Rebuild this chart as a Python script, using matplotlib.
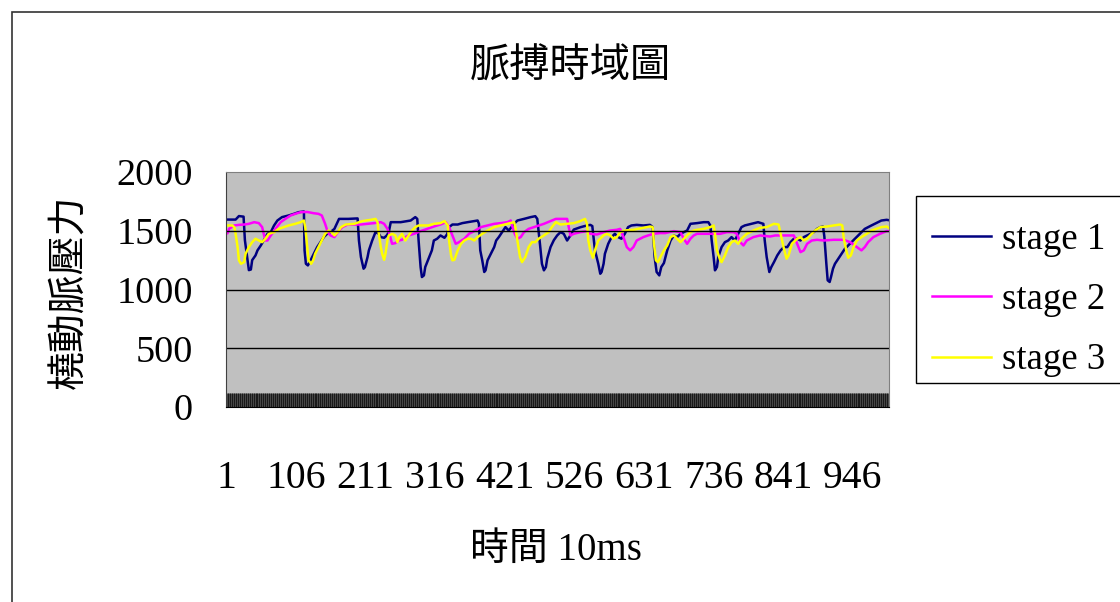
import numpy as np
import matplotlib
matplotlib.use("Agg")
import matplotlib.pyplot as plt
from matplotlib.ticker import FixedLocator, NullFormatter
from matplotlib.patches import Rectangle

plt.rcParams['font.family'] = ['Liberation Serif', 'Noto Sans CJK TC']

# ====== DATA (sample index, pressure) ======
stage1_x = [1, 15, 20, 27, 29, 33, 35, 38, 40, 45, 48, 53, 58, 63, 68, 73, 78, 85, 95, 103,
            110, 118, 119, 121, 124, 128, 133, 138, 143, 148, 153, 158, 164, 171, 185, 199,
            201, 204, 208, 210, 214, 216, 221, 226, 231, 234, 239, 243, 246, 249, 264, 279,
            286, 289, 291, 294, 296, 299, 301, 306, 311, 314, 319, 324, 330, 334, 337, 342,
            350, 357, 365, 375, 380, 382, 384, 387, 390, 392, 395, 400, 405, 408, 412, 417,
            422, 427, 435, 440, 450, 460, 467, 470, 474, 477, 480, 483, 485, 490, 495, 500,
            505, 510, 515, 520, 525, 535, 545, 550, 553, 557, 562, 565, 567, 570, 572, 577,
            582, 587, 592, 597, 602, 607, 612, 620, 630, 640, 644, 647, 650, 654, 657, 661,
            666, 671, 676, 681, 686, 691, 696, 701, 711, 721, 728, 731, 733, 736, 738, 741,
            743, 748, 753, 758, 763, 768, 773, 778, 783, 793, 803, 811, 813, 816, 820, 823,
            827, 832, 837, 842, 847, 852, 857, 862, 867, 872, 877, 882, 887, 892, 897, 901,
            903, 906, 908, 911, 913, 916, 919, 924, 929, 934, 939, 944, 949, 954, 959, 964,
            969, 974, 979, 984, 989, 997, 1000]
stage1_y = [1595, 1595, 1625, 1620, 1420, 1250, 1165, 1170, 1250, 1290, 1333, 1375, 1423, 1474,
            1488, 1545, 1587, 1616, 1630, 1644, 1658, 1664, 1333, 1219, 1205, 1248, 1304, 1361,
            1403, 1446, 1474, 1488, 1516, 1601, 1601, 1605, 1417, 1276, 1177, 1190, 1276, 1333,
            1417, 1488, 1474, 1446, 1440, 1460, 1488, 1573, 1573, 1587, 1616, 1601, 1417, 1191,
            1106, 1120, 1191, 1262, 1333, 1417, 1432, 1460, 1440, 1470, 1531, 1553, 1553, 1565,
            1573, 1582, 1587, 1560, 1333, 1248, 1149, 1163, 1248, 1304, 1361, 1417, 1446, 1488,
            1531, 1502, 1559, 1587, 1601, 1616, 1624, 1601, 1389, 1219, 1163, 1191, 1262, 1361,
            1420, 1460, 1488, 1474, 1417, 1460, 1510, 1530, 1545, 1550, 1540, 1333, 1219, 1134,
            1149, 1219, 1304, 1389, 1446, 1474, 1446, 1432, 1474, 1531, 1545, 1550, 1545, 1550,
            1531, 1276, 1149, 1120, 1191, 1225, 1333, 1417, 1460, 1446, 1474, 1488, 1502, 1559,
            1565, 1573, 1573, 1545, 1420, 1276, 1163, 1191, 1276, 1361, 1403, 1417, 1446, 1417,
            1474, 1531, 1545, 1559, 1573, 1559, 1420, 1276, 1149, 1191, 1233, 1290, 1333, 1361,
            1361, 1403, 1432, 1432, 1417, 1446, 1460, 1474, 1488, 1516, 1531, 1536, 1450, 1219,
            1078, 1064, 1106, 1177, 1219, 1262, 1304, 1347, 1375, 1403, 1432, 1460, 1488, 1516,
            1531, 1545, 1559, 1573, 1587, 1593, 1590]

stage2_x = [1, 3, 5, 13, 20, 28, 35, 43, 50, 55, 58, 60, 63, 68, 75, 83, 90, 98, 105, 113,
            123, 133, 140, 145, 150, 154, 158, 164, 171, 176, 184, 194, 204, 214, 224, 234,
            239, 244, 247, 251, 256, 261, 266, 271, 276, 284, 294, 304, 314, 324, 332, 337,
            342, 347, 352, 360, 367, 375, 385, 395, 405, 415, 425, 430, 432, 436, 440, 445,
            450, 457, 465, 472, 480, 490, 498, 505, 515, 517, 520, 525, 535, 545, 550, 560,
            570, 580, 590, 595, 600, 605, 610, 615, 620, 625, 630, 637, 645, 655, 663, 676,
            686, 691, 696, 701, 706, 711, 726, 736, 746, 756, 766, 771, 776, 781, 786, 796,
            806, 821, 829, 842, 857, 862, 867, 872, 877, 884, 892, 902, 917, 932, 942, 952,
            959, 964, 969, 977, 987, 997, 1000]
stage2_y = [1474, 1480, 1516, 1545, 1550, 1553, 1559, 1573, 1565, 1531, 1460, 1417, 1417, 1460,
            1516, 1573, 1601, 1630, 1644, 1658, 1660, 1649, 1644, 1630, 1559, 1488, 1460, 1446,
            1502, 1531, 1553, 1553, 1553, 1559, 1565, 1573, 1559, 1516, 1474, 1389, 1395, 1417,
            1423, 1446, 1460, 1474, 1497, 1516, 1536, 1553, 1573, 1531, 1460, 1389, 1403, 1432,
            1474, 1497, 1531, 1545, 1559, 1565, 1573, 1587, 1545, 1474, 1432, 1446, 1488, 1516,
            1531, 1545, 1559, 1582, 1601, 1601, 1601, 1545, 1460, 1474, 1488, 1497, 1474, 1468,
            1488, 1502, 1508, 1516, 1446, 1361, 1333, 1361, 1417, 1432, 1446, 1460, 1474, 1480,
            1480, 1497, 1488, 1432, 1389, 1432, 1460, 1474, 1474, 1474, 1474, 1488, 1488, 1474,
            1403, 1375, 1417, 1446, 1460, 1451, 1460, 1460, 1460, 1389, 1318, 1333, 1389, 1417,
            1423, 1417, 1423, 1423, 1403, 1361, 1333, 1361, 1403, 1446, 1474, 1497, 1497]

stage3_x = [1, 10, 13, 15, 18, 20, 23, 28, 30, 35, 40, 45, 50, 55, 60, 65, 73, 80, 88, 95,
            105, 113, 118, 120, 123, 125, 129, 132, 135, 140, 145, 150, 155, 160, 164, 169,
            174, 181, 194, 206, 219, 226, 229, 231, 234, 236, 239, 241, 244, 246, 251, 256,
            259, 262, 266, 271, 276, 281, 286, 291, 299, 306, 314, 324, 330, 335, 337, 340,
            342, 345, 350, 355, 360, 365, 370, 375, 380, 387, 395, 405, 415, 425, 435, 437,
            440, 444, 447, 452, 457, 462, 467, 472, 480, 487, 492, 498, 505, 515, 525, 535,
            542, 545, 547, 550, 554, 557, 562, 570, 575, 580, 585, 590, 595, 602, 615, 630,
            640, 644, 646, 649, 652, 657, 661, 666, 671, 676, 681, 686, 691, 696, 701, 706,
            711, 721, 731, 736, 738, 741, 746, 748, 753, 758, 763, 768, 773, 778, 786, 796,
            806, 816, 827, 834, 837, 842, 846, 849, 854, 862, 867, 872, 877, 884, 889, 897,
            907, 917, 927, 930, 932, 936, 939, 943, 947, 952, 959, 967, 974, 981, 989, 997,
            1000]
stage3_y = [1545, 1545, 1531, 1474, 1361, 1248, 1219, 1233, 1304, 1361, 1403, 1432, 1417, 1403,
            1432, 1474, 1488, 1516, 1531, 1545, 1559, 1573, 1587, 1531, 1361, 1248, 1219, 1248,
            1304, 1361, 1417, 1474, 1502, 1488, 1460, 1488, 1531, 1553, 1559, 1582, 1593, 1601,
            1573, 1474, 1361, 1304, 1253, 1304, 1417, 1460, 1474, 1460, 1403, 1446, 1474, 1417,
            1460, 1502, 1531, 1545, 1545, 1545, 1559, 1565, 1582, 1545, 1417, 1290, 1248, 1253,
            1333, 1389, 1417, 1432, 1432, 1417, 1446, 1474, 1502, 1531, 1545, 1559, 1573, 1531,
            1417, 1276, 1233, 1276, 1361, 1403, 1403, 1432, 1460, 1488, 1531, 1573, 1553, 1559,
            1565, 1582, 1601, 1559, 1417, 1333, 1270, 1333, 1417, 1460, 1474, 1460, 1432, 1446,
            1488, 1502, 1508, 1525, 1536, 1531, 1389, 1248, 1233, 1290, 1333, 1375, 1446, 1460,
            1432, 1403, 1432, 1460, 1488, 1502, 1508, 1516, 1531, 1545, 1474, 1333, 1248, 1233,
            1290, 1361, 1403, 1417, 1389, 1432, 1474, 1502, 1525, 1531, 1559, 1553, 1474, 1347,
            1262, 1290, 1389, 1432, 1446, 1417, 1432, 1474, 1502, 1531, 1536, 1545, 1553, 1545,
            1446, 1333, 1270, 1290, 1361, 1417, 1446, 1474, 1502, 1516, 1531, 1536, 1525]

n_samples = 1000
x_ticklabels = [1, 106, 211, 316, 421, 526, 631, 736, 841, 946]
y_ticks = [0, 500, 1000, 1500, 2000]
series = [("stage 1", stage1_x, stage1_y, "#000080"),
          ("stage 2", stage2_x, stage2_y, "#FF00FF"),
          ("stage 3", stage3_x, stage3_y, "#FFFF00")]

# ====== PLOT ======
W, H = 1120, 602
fig = plt.figure(figsize=(W / 100, H / 100), dpi=100)

# chart area border (runs off the right and bottom)
fig.patches.append(Rectangle((12 / W, -0.1), 1.2, 1 - 12 / H + 0.1, transform=fig.transFigure,
                             fill=False, edgecolor="#333333", linewidth=1.2))

ax = fig.add_axes([226 / W, 1 - 407 / H, (889 - 226) / W, (407 - 172) / H])
ax.set_facecolor("#C0C0C0")

for label, xs, ys, color in series:
    ax.plot(xs, ys, color=color, linewidth=1.8, label=label)

ax.set_xlim(0.5, n_samples + 0.5)
ax.set_ylim(0, 2000)

ax.set_yticks(y_ticks)
ax.set_yticklabels([str(v) for v in y_ticks], fontsize=27.5)
ax.tick_params(axis="y", length=0, pad=24)
for v in y_ticks[1:-1]:
    ax.axhline(v, color="black", linewidth=1)

ax.xaxis.set_major_locator(FixedLocator(x_ticklabels))
ax.set_xticklabels([str(v) for v in x_ticklabels], fontsize=28.5)
ax.xaxis.set_minor_locator(FixedLocator(np.arange(1, n_samples + 1)))
ax.xaxis.set_minor_formatter(NullFormatter())
ax.tick_params(axis="x", which="both", direction="in", length=10, width=0.45,
               color="black", pad=38)

for side in ["top", "right"]:
    ax.spines[side].set_color("#808080")
ax.spines["left"].set_color("#404040")
ax.spines["bottom"].set_color("black")

fig.text(570 / W, 1 - 68 / H, "脈搏時域圖", fontsize=29, ha="center", va="center")
fig.text(556 / W, 1 - 550 / H, "時間 10ms", fontsize=28, ha="center", va="center")
fig.text(71 / W, 1 - 292 / H, "橈動脈壓力", fontsize=28, ha="center", va="center",
         rotation=90)

# legend box drawn separately, runs off the right edge
fig.patches.append(Rectangle((916 / W, 1 - 383 / H), 0.3, (383 - 196) / H,
                             transform=fig.transFigure, facecolor="white",
                             edgecolor="black", linewidth=1))
fig.legend(loc="upper left", bbox_to_anchor=(914 / W, 1 - 204 / H), fontsize=26.5,
           frameon=False, borderaxespad=0, borderpad=0.5, handlelength=1.6,
           handletextpad=0.3, labelspacing=0.7)

fig.savefig("out.png", dpi=100)
